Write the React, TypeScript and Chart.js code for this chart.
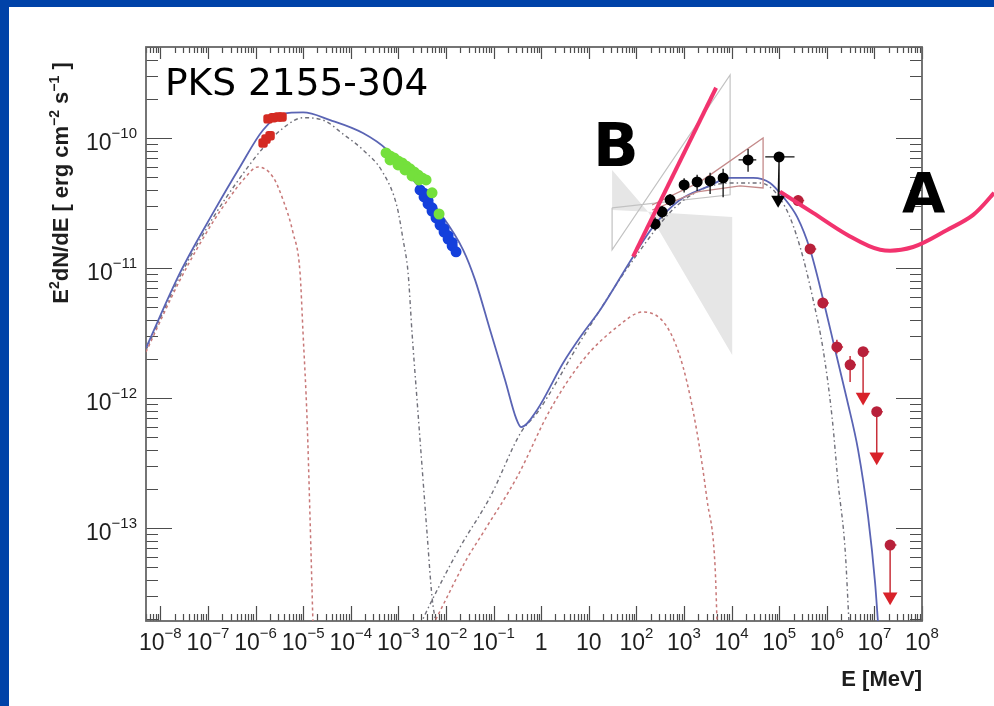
import React, { useEffect, useRef } from "react";
import { Chart, registerables } from "chart.js";

Chart.register(...registerables);

// ---------------- axis ranges & tick labels ----------------
const xMin = 5.0e-9;
const xMax = 1.0e8;
const yMin = 1.93e-14;
const yMax = 5.0e-10;

const xTickValues = [1e-8, 1e-7, 1e-6, 1e-5, 1e-4, 1e-3, 1e-2, 1e-1, 1, 10, 1e2, 1e3, 1e4, 1e5, 1e6, 1e7, 1e8];
const xTickBases = ["10", "10", "10", "10", "10", "10", "10", "10", "1", "10", "10", "10", "10", "10", "10", "10", "10"];
const xTickExps = ["\u22128", "\u22127", "\u22126", "\u22125", "\u22124", "\u22123", "\u22122", "\u22121", "", "", "2", "3", "4", "5", "6", "7", "8"];
const yTickValues = [1e-13, 1e-12, 1e-11, 1e-10];
const yTickBases = ["10", "10", "10", "10"];
const yTickExps = ["\u221213", "\u221212", "\u221211", "\u221210"];

// ---------------- model curves ----------------
const totalE = [5.0e-9, 2.6e-8, 1.28e-7, 4.7e-7, 1.44e-6, 3.8e-6, 1.0e-5, 3.7e-5, 1.8e-4, 5.8e-4, 2.04e-3, 7.5e-3, 2.29e-2, 4.09e-2, 8.45e-2, 0.175, 0.297, 0.378, 0.82, 2.89, 7.6, 17.3, 85.3, 224, 828, 3060, 9310, 2.83e4, 6.44e4, 1.21e5, 2.38e5, 4.47e5, 8.4e5, 1.5e6, 2.67e6, 4.55e6, 7.38e6, 1.035e7, 1.2e7];
const totalF = [2.43e-12, 9.2e-12, 2.65e-11, 5.98e-11, 1.15e-10, 1.53e-10, 1.57e-10, 1.37e-10, 1.09e-10, 8.1e-11, 4.75e-11, 2.65e-11, 1.38e-11, 8.1e-12, 3.33e-12, 1.37e-12, 7.0e-13, 5.98e-13, 8.1e-13, 1.86e-12, 3.16e-12, 4.75e-12, 1.22e-11, 2.07e-11, 3.34e-11, 4.2e-11, 4.92e-11, 4.92e-11, 4.5e-11, 3.52e-11, 2.47e-11, 1.38e-11, 5.7e-12, 2.34e-12, 9.65e-13, 3.98e-13, 1.22e-13, 3.78e-14, 1.8e-14];

const synchLowE = [5.0e-9, 2.6e-8, 1.28e-7, 2.92e-7, 5.47e-7, 1.13e-6, 2.33e-6, 3.78e-6, 6.14e-6, 8.6e-6, 9.95e-6, 1.21e-5, 1.40e-5, 1.61e-5];
const synchLowF = [2.26e-12, 8.1e-12, 2.26e-11, 3.52e-11, 4.75e-11, 5.98e-11, 5.0e-11, 3.34e-11, 1.86e-11, 9.2e-12, 3.16e-12, 6.8e-13, 1.15e-13, 1.8e-14];

const synchHighE = [5.0e-9, 2.6e-8, 1.28e-7, 4.7e-7, 1.44e-6, 3.8e-6, 1.0e-5, 2.89e-5, 6.9e-5, 1.8e-4, 4.78e-4, 9.4e-4, 1.26e-3, 1.6e-3, 1.94e-3, 2.47e-3, 3.15e-3, 4.0e-3, 5.1e-3, 6.2e-3];
const synchHighF = [2.34e-12, 8.67e-12, 2.43e-11, 4.92e-11, 8.38e-11, 1.19e-10, 1.43e-10, 1.35e-10, 1.07e-10, 8.1e-11, 5.38e-11, 2.95e-11, 1.64e-11, 9.2e-12, 3.16e-12, 9.65e-13, 2.95e-13, 9.2e-14, 2.95e-14, 1.8e-14];

const icLowE = [5.36e-3, 8.7e-3, 2.65e-2, 6.0e-2, 0.312, 1.54, 7.6, 39.4, 138, 442, 959, 1890, 3060, 4510, 4970];
const icLowF = [1.8e-14, 2.56e-14, 5.68e-14, 9.2e-14, 2.47e-13, 8.1e-13, 1.96e-12, 3.52e-12, 4.59e-12, 3.52e-12, 1.73e-12, 5.38e-13, 1.64e-13, 5.0e-14, 1.8e-14];

const icHighE = [2.86e-3, 5.1e-3, 1.98e-2, 8.45e-2, 0.378, 0.82, 7.6, 85.3, 828, 9310, 3.97e4, 1.33e5, 2.75e5, 5.16e5, 8.4e5, 1.29e6, 1.73e6, 2.43e6, 2.94e6];
const icHighF = [1.8e-14, 2.79e-14, 7.14e-14, 1.73e-13, 5.47e-13, 7.67e-13, 2.95e-12, 1.15e-11, 3.16e-11, 4.5e-11, 4.5e-11, 2.95e-11, 1.45e-11, 5.7e-12, 2.34e-12, 7.14e-13, 2.22e-13, 6.78e-14, 1.8e-14];

// ---------------- butterflies ----------------
const bowFillE = [30.9, 176, 1.03e4, 1.03e4, 176, 30.9];
const bowFillF = [5.67e-11, 2.7e-11, 2.14e-12, 2.47e-11, 2.7e-11, 2.79e-11];
const bowOutlineE = [30.9, 9310, 9310, 30.9, 30.9];
const bowOutlineF = [2.9e-11, 3.65e-11, 3.05e-10, 1.38e-11, 2.9e-11];
const fermiBowE = [214, 2180, 4.59e4, 4.59e4, 1.51e4, 1890, 214];
const fermiBowF = [3.05e-11, 4.59e-11, 1.0e-10, 4.12e-11, 4.27e-11, 3.85e-11, 2.79e-11];

// ---------------- data ----------------
const opticalE = [1.83e-6, 2.33e-6, 2.97e-6, 3.6e-6, 1.44e-6, 1.66e-6, 2.02e-6];
const opticalF = [1.40e-10, 1.43e-10, 1.45e-10, 1.45e-10, 9.15e-11, 9.8e-11, 1.04e-10];

const swiftE = [5.52e-4, 6.70e-4, 8.13e-4, 9.86e-4, 1.20e-3, 1.45e-3, 1.76e-3, 2.14e-3, 2.59e-3, 3.15e-3, 3.82e-3, 6.70e-4, 9.86e-4, 1.38e-3, 1.94e-3, 2.72e-3, 5.10e-3, 7.16e-3];
const swiftF = [7.67e-11, 7.27e-11, 7.02e-11, 6.65e-11, 6.42e-11, 6.09e-11, 5.78e-11, 5.47e-11, 5.19e-11, 4.92e-11, 4.75e-11, 6.77e-11, 6.2e-11, 5.67e-11, 5.1e-11, 4.75e-11, 3.78e-11, 2.6e-11];

const rxteE = [2.86e-3, 3.47e-3, 4.21e-3, 5.10e-3, 6.19e-3, 7.52e-3, 9.14e-3, 1.11e-2, 1.35e-2, 1.63e-2, 3.47e-3, 4.21e-3, 5.10e-3, 6.19e-3, 7.52e-3, 9.14e-3, 1.11e-2, 1.35e-2];
const rxteF = [3.98e-11, 3.52e-11, 3.11e-11, 2.74e-11, 2.43e-11, 2.14e-11, 1.89e-11, 1.67e-11, 1.48e-11, 1.33e-11, 3.75e-11, 3.3e-11, 2.9e-11, 2.56e-11, 2.26e-11, 2.0e-11, 1.77e-11, 1.57e-11];

const fermiE = [247, 347, 511, 1007, 1888, 3540, 6640, 2.22e4, 9.95e4];
const fermiF = [2.18e-11, 2.7e-11, 3.34e-11, 4.35e-11, 4.59e-11, 4.67e-11, 4.92e-11, 6.77e-11, 7.14e-11];
const fermiELo = [220, 300, 440, 800, 1500, 2800, 5300, 1.4e4, 5.1e4];
const fermiEHi = [280, 400, 600, 1250, 2400, 4500, 8400, 3.3e4, 2.1e5];
const fermiFLo = [1.95e-11, 2.4e-11, 3.0e-11, 3.8e-11, 3.9e-11, 3.7e-11, 3.5e-11, 5.5e-11, 3.4e-11];
const fermiFHi = [2.45e-11, 3.0e-11, 3.7e-11, 4.9e-11, 5.2e-11, 5.4e-11, 5.8e-11, 8.2e-11, 7.8e-11];
const fermiUlE = [9.5e4];
const fermiUlF = [3.34e-11];

const hessE = [2.50e5, 4.47e5, 8.25e5, 1.63e6, 3.09e6, 5.79e6, 1.12e7, 2.14e7];
const hessF = [3.30e-11, 1.40e-11, 5.38e-12, 2.47e-12, 1.80e-12, 2.27e-12, 7.85e-13, 7.4e-14];
const hessEHi = [3.35e5, 6.0e5, 1.1e6, 2.2e6, 4.1e6, 7.8e6, 1.5e7, 2.9e7];
const hessFLo = [3.0e-11, 1.28e-11, 4.9e-12, 2.2e-12, 1.33e-12, 2.27e-12, 7.85e-13, 7.4e-14];
const hessFHi = [3.6e-11, 1.52e-11, 5.9e-12, 2.8e-12, 2.1e-12, 2.27e-12, 7.85e-13, 7.4e-14];
const hessUlIndex = [5, 6, 7];
const hessUlEndF = [1.02e-12, 3.53e-13, 2.96e-14];

// ---------------- annotations (pink) ----------------
const annotBE = [85.3, 4730];
const annotBF = [1.22e-11, 2.43e-10];
const annotAE = [1.04e5, 5.16e5, 2.67e6, 1.32e7, 6.5e7, 3.37e8, 1.19e9, 3.27e9];
const annotAF = [3.86e-11, 2.65e-11, 1.8e-11, 1.38e-11, 1.45e-11, 1.96e-11, 2.56e-11, 3.78e-11];

const pts = (xs: number[], ys: (number | null)[]) => xs.map((x, i) => ({ x, y: ys[i] }));

function segData(segs: [number, number, number, number][]) {
  const out: { x: number; y: number | null }[] = [];
  segs.forEach(([x1, y1, x2, y2]) => {
    out.push({ x: x1, y: y1 }, { x: x2, y: y2 }, { x: x2, y: null });
  });
  return out;
}

const fermiErrSegs: [number, number, number, number][] = [];
fermiE.forEach((e, i) => {
  fermiErrSegs.push([fermiELo[i], fermiF[i], fermiEHi[i], fermiF[i]]);
  fermiErrSegs.push([e, fermiFLo[i], e, fermiFHi[i]]);
});
fermiErrSegs.push([fermiE[8], fermiF[8], fermiUlE[0], fermiUlF[0]]);

const hessErrSegs: [number, number, number, number][] = [];
hessE.forEach((e, i) => {
  hessErrSegs.push([e, hessF[i], hessEHi[i], hessF[i]]);
  if (hessFLo[i] !== hessFHi[i]) hessErrSegs.push([e, hessFLo[i], e, hessFHi[i]]);
});
hessUlIndex.forEach((k, j) => {
  hessErrSegs.push([hessE[k], hessF[k], hessE[k], hessUlEndF[j]]);
});

const LABEL_FONT = '"Liberation Sans", Arial, sans-serif';

function drawPower(ctx: CanvasRenderingContext2D, base: string, exp: string, ax: number, by: number, align: "center" | "right") {
  ctx.font = `23px ${LABEL_FONT}`;
  const wb = ctx.measureText(base).width;
  ctx.font = `15px ${LABEL_FONT}`;
  const we = exp ? ctx.measureText(exp).width : 0;
  const total = wb + we;
  const x0 = align === "center" ? ax - total / 2 : ax - total;
  ctx.textAlign = "left";
  ctx.textBaseline = "alphabetic";
  ctx.font = `23px ${LABEL_FONT}`;
  ctx.fillText(base, x0, by);
  if (exp) {
    ctx.font = `15px ${LABEL_FONT}`;
    ctx.fillText(exp, x0 + wb, by - 12);
  }
}

function smoothPath(ctx: CanvasRenderingContext2D, p: { x: number; y: number }[]) {
  ctx.moveTo(p[0].x, p[0].y);
  for (let i = 0; i < p.length - 1; i++) {
    const p0 = p[Math.max(0, i - 1)];
    const p1 = p[i];
    const p2 = p[i + 1];
    const p3 = p[Math.min(p.length - 1, i + 2)];
    const c1x = p1.x + (p2.x - p0.x) / 6;
    const c1y = p1.y + (p2.y - p0.y) / 6;
    const c2x = p2.x - (p3.x - p1.x) / 6;
    const c2y = p2.y - (p3.y - p1.y) / 6;
    ctx.bezierCurveTo(c1x, c1y, c2x, c2y, p2.x, p2.y);
  }
}

const rootPlugin = {
  id: "rootFrame",
  beforeDatasetsDraw(chart: any) {
    const ctx: CanvasRenderingContext2D = chart.ctx;
    const { left, right, top, bottom } = chart.chartArea;
    const xs = chart.scales.x;
    const ys = chart.scales.y;
    ctx.save();
    ctx.strokeStyle = "#4d4d4d";
    ctx.lineWidth = 1.2;
    ctx.beginPath();
    for (let p = -9; p <= 8; p++) {
      for (let m = 1; m <= 9; m++) {
        const v = m * Math.pow(10, p);
        if (v < xMin || v > xMax * 1.0001) continue;
        const px = Math.round(xs.getPixelForValue(v)) + 0.5;
        const lb = m === 1 ? 15 : 7;
        const lt = m === 1 ? 12 : 6;
        ctx.moveTo(px, bottom);
        ctx.lineTo(px, bottom - lb);
        ctx.moveTo(px, top);
        ctx.lineTo(px, top + lt);
      }
    }
    for (let p = -15; p <= -9; p++) {
      for (let m = 1; m <= 9; m++) {
        const v = m * Math.pow(10, p);
        if (v < yMin || v > yMax) continue;
        const py = Math.round(ys.getPixelForValue(v)) + 0.5;
        const l = m === 1 ? 26 : 12;
        ctx.moveTo(left, py);
        ctx.lineTo(left + l, py);
        ctx.moveTo(right, py);
        ctx.lineTo(right - l, py);
      }
    }
    ctx.stroke();
    ctx.lineWidth = 1.8;
    ctx.strokeStyle = "#666";
    ctx.strokeRect(left, top, right - left, bottom - top);
    ctx.restore();
  },
  afterDraw(chart: any) {
    const ctx: CanvasRenderingContext2D = chart.ctx;
    const { left, right, top, bottom } = chart.chartArea;
    const xs = chart.scales.x;
    const ys = chart.scales.y;
    ctx.save();
    ctx.fillStyle = "#1e1e1e";
    xTickValues.forEach((v, i) => {
      drawPower(ctx, xTickBases[i], xTickExps[i], xs.getPixelForValue(v), bottom + 29, "center");
    });
    yTickValues.forEach((v, i) => {
      drawPower(ctx, yTickBases[i], yTickExps[i], left - 9, ys.getPixelForValue(v) + 12, "right");
    });
    // x title
    ctx.font = `bold 22px ${LABEL_FONT}`;
    ctx.textAlign = "right";
    ctx.fillText("E [MeV]", right, bottom + 65);
    // y title (rotated)
    ctx.translate(68, top + 136);
    ctx.rotate(-Math.PI / 2);
    const parts: [string, boolean][] = [["E", false], ["2", true], ["dN/dE [ erg cm", false], ["\u22122", true], [" s", false], ["\u22121", true], [" ]", false]];
    let total = 0;
    parts.forEach(([t, s]) => {
      ctx.font = s ? `bold 14px ${LABEL_FONT}` : `bold 22px ${LABEL_FONT}`;
      total += ctx.measureText(t).width;
    });
    let cx = -total / 2;
    ctx.textAlign = "left";
    parts.forEach(([t, s]) => {
      ctx.font = s ? `bold 14px ${LABEL_FONT}` : `bold 22px ${LABEL_FONT}`;
      ctx.fillText(t, cx, s ? -9 : 0);
      cx += ctx.measureText(t).width;
    });
    ctx.restore();

    // pink hand-drawn annotations, positioned through the chart scales
    ctx.save();
    ctx.strokeStyle = "#f2336e";
    ctx.lineWidth = 4;
    ctx.lineCap = "butt";
    ctx.lineJoin = "round";
    const bPts = annotBE.map((e, i) => ({ x: xs.getPixelForValue(e), y: ys.getPixelForValue(annotBF[i]) }));
    ctx.beginPath();
    ctx.moveTo(bPts[0].x, bPts[0].y);
    ctx.lineTo(bPts[1].x, bPts[1].y);
    ctx.stroke();
    const aPts = annotAE.map((e, i) => ({ x: xs.getPixelForValue(e), y: ys.getPixelForValue(annotAF[i]) }));
    ctx.beginPath();
    smoothPath(ctx, aPts);
    ctx.stroke();
    ctx.restore();

    ctx.save();
    ctx.fillStyle = "#000";
    ctx.textAlign = "left";
    ctx.textBaseline = "alphabetic";
    ctx.font = `37.5px "DejaVu Sans", sans-serif`;
    ctx.fillText("PKS 2155-304", left + 19, top + 48);
    ctx.font = `bold 60px "DejaVu Sans", sans-serif`;
    ctx.fillText("B", 593, 166);
    ctx.font = `bold 56px "DejaVu Sans", sans-serif`;
    ctx.fillText("A", 902, 212);
    ctx.restore();
  },
};

export default function App() {
  const ref = useRef<HTMLCanvasElement | null>(null);
  useEffect(() => {
    if (!ref.current) return;
    const curve = (label: string, xs: number[], ys: number[], color: string, width: number, dash: number[], order: number) => ({
      type: "line" as const,
      label,
      data: pts(xs, ys),
      borderColor: color,
      borderWidth: width,
      borderDash: dash,
      pointRadius: 0,
      fill: false,
      cubicInterpolationMode: "monotone" as const,
      order,
    });
    const chart = new Chart(ref.current, {
      type: "scatter",
      data: {
        datasets: [
          { label: "HESS", data: pts(hessE, hessF), pointRadius: 5.5, pointBackgroundColor: "#b8203a", pointBorderWidth: 0, order: 1 },
          { label: "HESS UL", data: pts(hessUlIndex.map((k) => hessE[k]), hessUlEndF), pointStyle: "triangle", rotation: 180, pointRadius: 8.5, pointBackgroundColor: "#d8222a", pointBorderWidth: 0, order: 1 },
          { type: "line", label: "HESS err", data: segData(hessErrSegs), borderColor: "#c8303a", borderWidth: 1.5, pointRadius: 0, spanGaps: false, order: 2 },
          { label: "Fermi", data: pts(fermiE, fermiF), pointRadius: 5.5, pointBackgroundColor: "#000", pointBorderWidth: 0, order: 1 },
          { label: "Fermi UL", data: pts(fermiUlE, fermiUlF), pointStyle: "triangle", rotation: 180, pointRadius: 8, pointBackgroundColor: "#000", pointBorderWidth: 0, order: 1 },
          { type: "line", label: "Fermi err", data: segData(fermiErrSegs), borderColor: "#111", borderWidth: 1.3, pointRadius: 0, spanGaps: false, order: 2 },
          { label: "Optical", data: pts(opticalE, opticalF), pointStyle: "rectRounded", pointRadius: 5.5, pointBackgroundColor: "#d42a22", pointBorderWidth: 0, order: 1 },
          { label: "Swift", data: pts(swiftE, swiftF), pointRadius: 5.5, pointBackgroundColor: "#74e03c", pointBorderWidth: 0, order: 1 },
          { label: "RXTE", data: pts(rxteE, rxteF), pointRadius: 5.5, pointBackgroundColor: "#1440dc", pointBorderWidth: 0, order: 2 },
          { type: "line", label: "Fermi bowtie", data: pts(fermiBowE, fermiBowF), borderColor: "#c48a8a", borderWidth: 1.3, pointRadius: 0, order: 3 },
          curve("total", totalE, totalF, "#5a64b4", 1.8, [], 4),
          curve("synch low", synchLowE, synchLowF, "#c87878", 1.5, [3, 3], 5),
          curve("synch high", synchHighE, synchHighF, "#70707a", 1.4, [4, 3, 1.5, 3], 5),
          curve("ic low", icLowE, icLowF, "#c87878", 1.5, [3, 3], 5),
          curve("ic high", icHighE, icHighF, "#70707a", 1.4, [4, 3, 1.5, 3], 5),
          { type: "line", label: "bow outline", data: pts(bowOutlineE, bowOutlineF), borderColor: "#c2c2c2", borderWidth: 1.2, pointRadius: 0, order: 6 },
          { type: "line", label: "bow fill", data: pts(bowFillE, bowFillF), borderColor: "rgba(0,0,0,0)", borderWidth: 0, backgroundColor: "#e6e6e6", fill: "shape", pointRadius: 0, order: 7 },
        ] as any,
      },
      options: {
        animation: false,
        responsive: false,
        devicePixelRatio: 1,
        events: [],
        layout: { padding: { left: 146, top: 47, right: 72, bottom: 85 } },
        plugins: { legend: { display: false }, tooltip: { enabled: false } },
        scales: {
          x: { type: "logarithmic", min: xMin, max: xMax, display: false },
          y: { type: "logarithmic", min: yMin, max: yMax, display: false },
        },
      },
      plugins: [rootPlugin],
    });
    return () => chart.destroy();
  }, []);

  return (
    <div style={{ position: "fixed", left: 0, top: 0, width: 994, height: 706, background: "#0042a8", overflow: "hidden" }}>
      <div style={{ position: "absolute", left: 9, top: 7, right: 0, bottom: 0, background: "#fff" }} />
      <canvas ref={ref} width={994} height={706} style={{ position: "absolute", left: 0, top: 0, width: 994, height: 706 }} />
    </div>
  );
}
